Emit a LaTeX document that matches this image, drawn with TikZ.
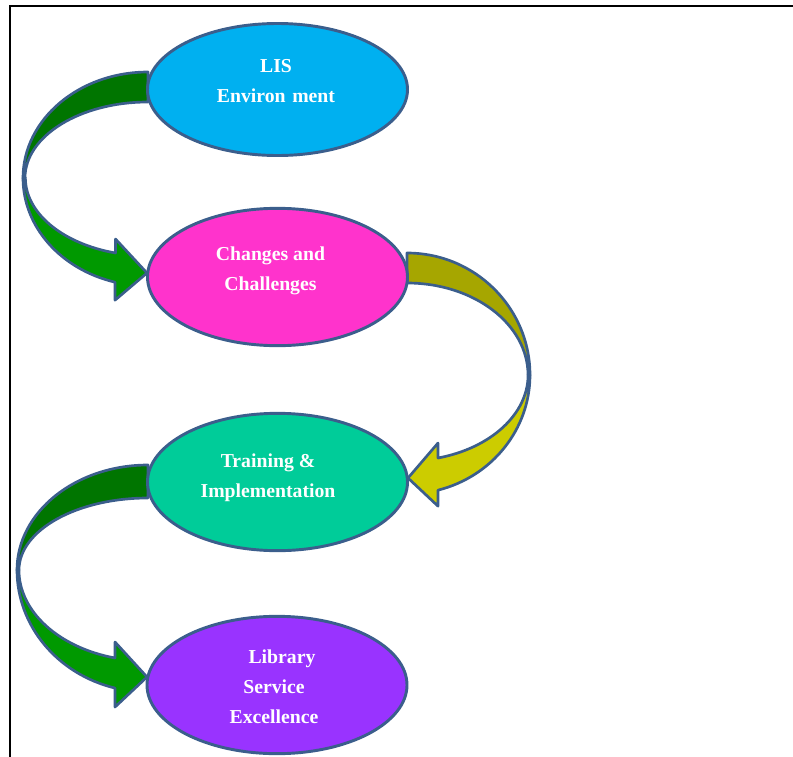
\documentclass[tikz,border=0pt]{standalone}
\usepackage{fontspec}
\setmainfont{Liberation Serif}
\usetikzlibrary{shapes.geometric,calc}
\pgfdeclarelayer{bg}
\pgfsetlayers{bg,main}
\definecolor{edgeblue}{HTML}{3B5E8C}
\definecolor{lisblue}{HTML}{00B0F0}
\definecolor{chgpink}{HTML}{FF33CC}
\definecolor{trngreen}{HTML}{00CC99}
\definecolor{libviolet}{HTML}{9933FF}
\definecolor{ribdark}{HTML}{007500}
\definecolor{riblight}{HTML}{009900}
\definecolor{olivedark}{HTML}{A6A600}
\definecolor{olivelight}{HTML}{CCCC00}

\tikzset{
  stage/.style={ellipse,draw=edgeblue,line width=2.2pt,minimum width=195pt,
    minimum height=103pt,inner sep=0pt,outer sep=0pt},
  stagetext/.style={text=white,align=center,
    font=\fontsize{14.8pt}{22.5pt}\selectfont\bfseries},
  ribbon/.style={draw=edgeblue,line width=2pt,line join=round},
  frame/.style={line width=1.7pt}
}

\begin{document}
\begin{tikzpicture}[x=0.75pt,y=-0.75pt]
\useasboundingbox (0,0) rectangle (793,757);
\draw[frame] (10,757) -- (10,6) -- (793,6);

\node[stage,fill=lisblue,minimum height=99pt] (lis) at (277.5,89.5) {};
\node[stage,fill=chgpink] (chg) at (277.5,277) {};
\node[stage,fill=trngreen] (trn) at (277.5,482) {};
\node[stage,fill=libviolet] (lib) at (277,685) {};

\node[stagetext] (lis-t) at ($(lis)+(-1.5,-8)$) {LIS\\Environ\,\,ment};
\node[stagetext] (chg-t) at ($(chg)+(-7,-6.5)$) {Changes and\\Challenges};
\node[stagetext] (trn-t) at ($(trn)+(-9.5,-4.5)$) {Training \&\\Implementation};
\node[stagetext] (lib-t) at ($(lib)+(-3,2)$) {\hspace*{12pt}Library\\Service\\Excellence};

\begin{pgfonlayer}{bg}
% lis -> chg
\draw[ribbon,fill=ribdark] ($(lis.west)+(0.5,-17.5)$)
  arc[start angle=-90,end angle=-180,x radius=125,y radius=106] coordinate (a1m)
  -- ++(2,0) arc[start angle=180,end angle=270,x radius=123,y radius=76] -- cycle;
\draw[ribbon,fill=riblight] (a1m)
  arc[start angle=180,end angle=105.3,x radius=125,y radius=108]
  -- ++(0,18) -- ($(chg.west)+(-0.5,-4)$) -- ++(-31.5,-34) -- ++(0,14)
  arc[start angle=105.5,end angle=180,x radius=123,y radius=78] -- cycle;
% chg -> trn
\draw[ribbon,fill=olivedark] ($(chg.east)+(-0.5,-24)$)
  arc[start angle=-90,end angle=0,x radius=123,y radius=122] coordinate (a2m)
  -- ++(-2,0) arc[start angle=0,end angle=-90,x radius=121,y radius=92] -- cycle;
\draw[ribbon,fill=olivelight] (a2m)
  arc[start angle=0,end angle=75.4,x radius=123,y radius=119]
  -- ++(0,16) -- ($(trn.east)+(0.5,-4)$) -- ++(30,-35) -- ++(0,15)
  arc[start angle=75.2,end angle=0,x radius=121,y radius=86] -- cycle;
% trn -> lib
\draw[ribbon,fill=ribdark] ($(trn.west)+(0.5,-17)$)
  arc[start angle=-90,end angle=-180,x radius=131,y radius=105] coordinate (a3m)
  -- ++(2,0) arc[start angle=180,end angle=270,x radius=129,y radius=72] -- cycle;
\draw[ribbon,fill=riblight] (a3m)
  arc[start angle=180,end angle=104.6,x radius=131,y radius=122]
  -- ++(0,19) -- ($(lib.west)+(0,-8)$) -- ++(-32,-35) -- ++(0,16)
  arc[start angle=104.8,end angle=180,x radius=129,y radius=91] -- cycle;
\end{pgfonlayer}
\end{tikzpicture}
\end{document}
